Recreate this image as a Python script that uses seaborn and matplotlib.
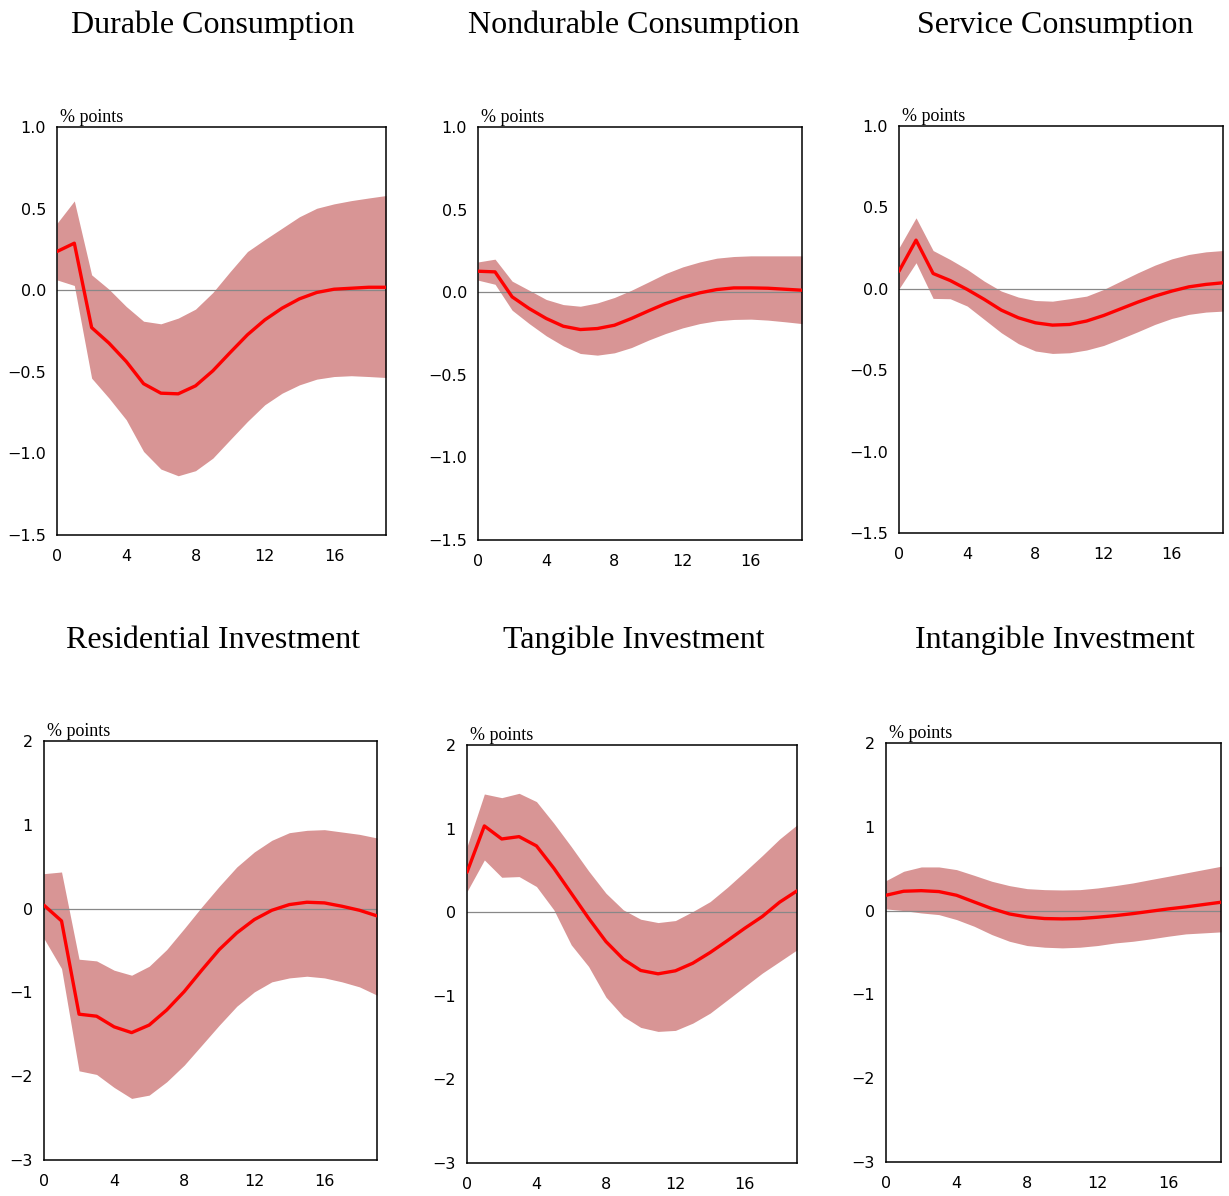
import numpy as np
import pandas as pd
import matplotlib
matplotlib.use("Agg")
import matplotlib.pyplot as plt
import seaborn as sns

# ---------------- data ----------------
horizon = list(range(20))

titles = ["Durable Consumption", "Nondurable Consumption", "Service Consumption",
          "Residential Investment", "Tangible Investment", "Intangible Investment"]

durable_mid = [0.237, 0.288, -0.229, -0.324, -0.437, -0.573, -0.631, -0.635, -0.586, -0.494,
               -0.382, -0.273, -0.182, -0.110, -0.053, -0.014, 0.006, 0.012, 0.018, 0.018]
durable_hi = [0.41, 0.547, 0.094, 0.006, -0.10, -0.19, -0.206, -0.171, -0.116, -0.014,
              0.114, 0.237, 0.31, 0.38, 0.45, 0.502, 0.529, 0.549, 0.565, 0.58]
durable_lo = [0.063, 0.029, -0.539, -0.661, -0.794, -0.988, -1.096, -1.137, -1.106, -1.029,
              -0.916, -0.804, -0.702, -0.631, -0.58, -0.545, -0.529, -0.524, -0.529, -0.535]

nondur_mid = [0.127, 0.123, -0.028, -0.099, -0.159, -0.206, -0.226, -0.22, -0.2, -0.159,
              -0.113, -0.069, -0.032, -0.004, 0.016, 0.026, 0.026, 0.024, 0.018, 0.012]
nondur_hi = [0.183, 0.2, 0.067, 0.012, -0.044, -0.075, -0.085, -0.065, -0.032, 0.012,
             0.062, 0.113, 0.153, 0.183, 0.206, 0.216, 0.22, 0.22, 0.22, 0.22]
nondur_lo = [0.073, 0.048, -0.109, -0.19, -0.264, -0.325, -0.371, -0.381, -0.367, -0.335,
             -0.29, -0.25, -0.216, -0.19, -0.173, -0.165, -0.163, -0.169, -0.179, -0.19]

service_mid = [0.108, 0.299, 0.094, 0.051, -0.004, -0.065, -0.131, -0.178, -0.209, -0.223,
               -0.219, -0.198, -0.164, -0.123, -0.082, -0.045, -0.014, 0.012, 0.027, 0.037]
service_hi = [0.252, 0.436, 0.235, 0.18, 0.119, 0.047, -0.014, -0.051, -0.072, -0.076,
              -0.061, -0.045, -0.004, 0.047, 0.098, 0.145, 0.184, 0.211, 0.227, 0.235]
service_lo = [0.0, 0.16, -0.059, -0.061, -0.106, -0.188, -0.27, -0.337, -0.382, -0.397,
              -0.393, -0.376, -0.348, -0.307, -0.264, -0.219, -0.182, -0.157, -0.143, -0.137]

resid_mid = [0.04, -0.147, -1.26, -1.284, -1.411, -1.48, -1.39, -1.21, -0.99, -0.735,
             -0.489, -0.29, -0.131, -0.02, 0.048, 0.076, 0.068, 0.028, -0.02, -0.087]
resid_hi = [0.417, 0.437, -0.604, -0.624, -0.735, -0.795, -0.688, -0.489, -0.238, 0.02,
            0.266, 0.497, 0.676, 0.815, 0.906, 0.934, 0.942, 0.914, 0.886, 0.843]
resid_lo = [-0.358, -0.715, -1.936, -1.979, -2.134, -2.265, -2.226, -2.067, -1.868, -1.63,
            -1.391, -1.165, -0.994, -0.874, -0.827, -0.807, -0.827, -0.874, -0.934, -1.033]

tang_mid = [0.478, 1.032, 0.876, 0.904, 0.793, 0.526, 0.227, -0.072, -0.351, -0.562,
            -0.697, -0.737, -0.701, -0.61, -0.482, -0.339, -0.191, -0.052, 0.12, 0.255]
tang_hi = [0.785, 1.414, 1.37, 1.422, 1.323, 1.064, 0.785, 0.494, 0.227, 0.028,
           -0.084, -0.124, -0.1, 0.008, 0.127, 0.299, 0.486, 0.677, 0.876, 1.044]
tang_lo = [0.247, 0.625, 0.418, 0.426, 0.307, 0.028, -0.39, -0.649, -1.016, -1.247,
           -1.378, -1.426, -1.414, -1.327, -1.207, -1.048, -0.888, -0.729, -0.59, -0.45]

intang_mid = [0.183, 0.231, 0.238, 0.227, 0.183, 0.103, 0.024, -0.04, -0.076, -0.095,
              -0.099, -0.095, -0.079, -0.06, -0.036, -0.008, 0.02, 0.044, 0.072, 0.1]
intang_hi = [0.358, 0.469, 0.521, 0.521, 0.489, 0.421, 0.35, 0.298, 0.262, 0.25,
             0.246, 0.25, 0.27, 0.298, 0.33, 0.37, 0.409, 0.449, 0.489, 0.529]
intang_lo = [0.02, 0.0, -0.028, -0.048, -0.107, -0.187, -0.286, -0.366, -0.417, -0.437,
             -0.445, -0.437, -0.417, -0.386, -0.366, -0.338, -0.306, -0.278, -0.266, -0.254]

x_ticks = [0, 4, 8, 12, 16]
y_ticks_cons = [-1.5, -1.0, -0.5, 0.0, 0.5, 1.0]
y_ticks_inv = [-3, -2, -1, 0, 1, 2]
unit_label = "% points"

# ---------------- style ----------------
sns.set_style("white")
plt.rcParams["font.family"] = ["DejaVu Sans"]
plt.rcParams["text.color"] = "black"
plt.rcParams["axes.unicode_minus"] = True

FILL = "#d89595"
LINE = "#ff0000"

W, H = 1229, 1196
fig = plt.figure(figsize=(W / 100, H / 100), dpi=100)

# axes boxes in pixels: left, top, right, bottom
boxes = [(57, 127, 386, 535), (478, 127, 802, 540), (899, 126, 1223, 533),
         (44, 741, 377, 1160), (467, 745, 797, 1163), (886, 743, 1221, 1162)]

series = [(durable_mid, durable_lo, durable_hi), (nondur_mid, nondur_lo, nondur_hi),
          (service_mid, service_lo, service_hi), (resid_mid, resid_lo, resid_hi),
          (tang_mid, tang_lo, tang_hi), (intang_mid, intang_lo, intang_hi)]

title_xy = [(213, 25), (634, 25), (1055, 25), (213, 640), (634, 640), (1055, 640)]

for i, (box, (mid, lo, hi), title) in enumerate(zip(boxes, series, titles)):
    l, t, r, b = box
    ax = fig.add_axes([l / W, 1 - b / H, (r - l) / W, (b - t) / H])
    df = pd.DataFrame({"h": horizon, "mid": mid, "lo": lo, "hi": hi})
    ax.fill_between(df["h"], df["lo"], df["hi"], color=FILL, linewidth=0, zorder=1)
    ax.axhline(0, color="#888888", linewidth=0.9, zorder=2)
    sns.lineplot(data=df, x="h", y="mid", ax=ax, color=LINE, linewidth=2.4, zorder=3)
    ax.set_xlim(0, 19)
    if i < 3:
        ax.set_ylim(-1.5, 1.0)
        ax.set_yticks(y_ticks_cons)
        ax.set_yticklabels([f"{v:.1f}".replace("-", "\u2212") for v in y_ticks_cons])
    else:
        ax.set_ylim(-3, 2)
        ax.set_yticks(y_ticks_inv)
        ax.set_yticklabels([f"{v:d}".replace("-", "\u2212") for v in y_ticks_inv])
    ax.set_xticks(x_ticks)
    ax.set_xlabel("")
    ax.set_ylabel("")
    ax.tick_params(axis="both", direction="in", length=5, width=1, labelsize=11.5,
                   colors="black", pad=8)
    ax.tick_params(axis="x", pad=10)
    for s in ax.spines.values():
        s.set_color("black")
        s.set_linewidth(1.1)
        s.set_visible(True)
    ax.text(0.01, 1.003, unit_label, transform=ax.transAxes, ha="left", va="bottom",
            fontsize=13, family="Liberation Serif", color="black")
    tx, ty = title_xy[i]
    fig.text(tx / W, 1 - ty / H, title, ha="center", va="center",
             fontsize=23, family="Liberation Serif", color="black")

fig.savefig("out.png", dpi=100)
